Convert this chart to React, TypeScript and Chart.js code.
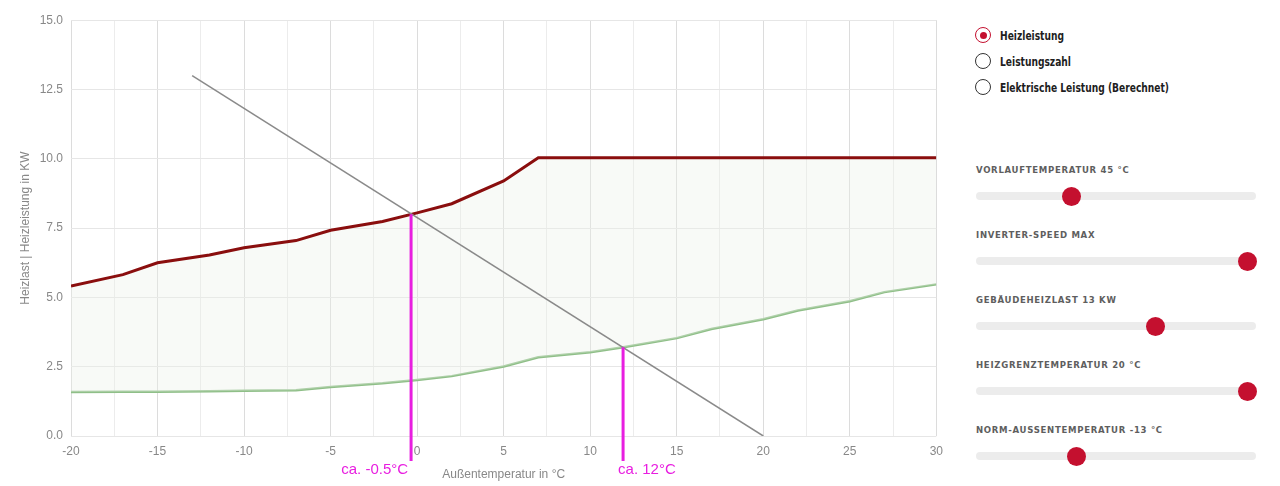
import React, { useEffect, useRef } from "react";
import { Chart, registerables } from "chart.js";

Chart.register(...registerables);

// Heizleistung (red)
const heizTemps = [-20, -17, -15, -12, -10, -7, -5, -2, 0, 2, 5, 7, 10, 12, 15, 17, 20, 22, 25, 27, 30];
const heizValues = [5.41, 5.82, 6.25, 6.53, 6.79, 7.05, 7.42, 7.74, 8.05, 8.38, 9.2, 10.04, 10.04, 10.04, 10.04, 10.04, 10.04, 10.04, 10.04, 10.04, 10.04];

// lower curve (green)
const minTemps = [-20, -17, -15, -12, -10, -7, -5, -2, 0, 2, 5, 7, 10, 12, 15, 17, 20, 22, 25, 27, 30];
const minValues = [1.59, 1.6, 1.6, 1.61, 1.63, 1.65, 1.77, 1.9, 2.02, 2.16, 2.51, 2.84, 3.02, 3.21, 3.53, 3.86, 4.21, 4.53, 4.86, 5.19, 5.47];

// Heizlast (gray)
const lastTemps = [-13, 20];
const lastValues = [13, 0];

// magenta markers
const markerTemps = [-0.35, 11.9];
const markerValues = [8.0, 3.2];
const markerLabels = ["ca. -0.5°C", "ca. 12°C"];

const xTitle = "Außentemperatur in °C";
const yTitle = "Heizlast | Heizleistung in KW";

const radioLabels = ["Heizleistung", "Leistungszahl", "Elektrische Leistung (Berechnet)"];
const radioChecked = [true, false, false];

const sliderLabels = [
  "VORLAUFTEMPERATUR 45 °C",
  "INVERTER-SPEED MAX",
  "GEBÄUDEHEIZLAST 13 KW",
  "HEIZGRENZTEMPERATUR 20 °C",
  "NORM-AUSSENTEMPERATUR -13 °C",
];
const sliderFractions = [0.332, 1.0, 0.649, 1.0, 0.351];

const MAGENTA = "#e81ee0";
const CRIMSON = "#c4102f";

const toPoints = (xs: number[], ys: number[]) => xs.map((x, i) => ({ x, y: ys[i] }));

const markerPlugin = {
  id: "markers",
  afterDatasetsDraw(chart: any) {
    const { ctx, chartArea } = chart;
    const xs = chart.scales.x;
    const ys = chart.scales.y;
    ctx.save();
    markerTemps.forEach((t, i) => {
      const px = xs.getPixelForValue(t);
      const py = ys.getPixelForValue(markerValues[i]);
      ctx.strokeStyle = MAGENTA;
      ctx.lineWidth = 3;
      ctx.beginPath();
      ctx.moveTo(px, py);
      ctx.lineTo(px, chartArea.bottom + 25);
      ctx.stroke();
      ctx.fillStyle = MAGENTA;
      ctx.font = '15px "Liberation Sans", Arial, sans-serif';
      ctx.textBaseline = "middle";
      if (i === 0) {
        ctx.textAlign = "right";
        ctx.fillText(markerLabels[i], px - 3, chartArea.bottom + 34);
      } else {
        ctx.textAlign = "left";
        ctx.fillText(markerLabels[i], px - 5, chartArea.bottom + 34);
      }
    });
    ctx.restore();
  },
};

function ChartView() {
  const ref = useRef<HTMLCanvasElement | null>(null);
  useEffect(() => {
    if (!ref.current) return;
    const chart = new Chart(ref.current, {
      type: "line",
      data: {
        datasets: [
          {
            label: "Heizleistung",
            data: toPoints(heizTemps, heizValues),
            borderColor: "#8a0e0e",
            borderWidth: 3,
            pointRadius: 0,
            fill: "+1",
            backgroundColor: "rgba(236,242,232,0.35)",
            tension: 0,
            order: 2,
          },
          {
            label: "Min",
            data: toPoints(minTemps, minValues),
            borderColor: "#8fbf88",
            borderWidth: 2.5,
            pointRadius: 0,
            fill: false,
            tension: 0,
            order: 3,
          },
          {
            label: "Heizlast",
            data: toPoints(lastTemps, lastValues),
            borderColor: "#8a8a8a",
            borderWidth: 1.5,
            pointRadius: 0,
            fill: false,
            tension: 0,
            order: 1,
          },
        ],
      },
      options: {
        animation: false,
        responsive: false,
        maintainAspectRatio: false,
        layout: { padding: { top: 8, left: 6, right: 12, bottom: 0 } },
        plugins: { legend: { display: false }, tooltip: { enabled: false } },
        scales: {
          x: {
            type: "linear",
            min: -20,
            max: 30,
            border: { display: false },
            grid: {
              drawTicks: false,
              color: (c: any) =>
                c.tick && Math.abs(c.tick.value % 5) < 1e-6 ? "#dcdcdc" : "#ececec",
            },
            ticks: {
              stepSize: 2.5,
              autoSkip: false,
              maxRotation: 0,
              padding: 8,
              color: "#888",
              font: { size: 12, family: 'Arial, "Liberation Sans", sans-serif' },
              callback: (v: any) => (Math.abs(v % 5) < 1e-6 ? String(v) : ""),
            },
            title: {
              display: true,
              text: xTitle,
              color: "#888",
              font: { size: 12, family: 'Arial, "Liberation Sans", sans-serif' },
            },
            afterFit: (s: any) => {
              s.height = 50;
            },
          },
          y: {
            min: 0,
            max: 15,
            border: { display: false },
            grid: { drawTicks: false, color: "#e6e6e6" },
            ticks: {
              stepSize: 2.5,
              padding: 8,
              color: "#888",
              font: { size: 12, family: 'Arial, "Liberation Sans", sans-serif' },
              callback: (v: any) => Number(v).toFixed(1),
            },
            title: {
              display: true,
              text: yTitle,
              color: "#888",
              font: { size: 12, family: 'Arial, "Liberation Sans", sans-serif' },
            },
            afterFit: (s: any) => {
              s.width = 57;
            },
          },
        },
      },
      plugins: [markerPlugin],
    } as any);
    return () => chart.destroy();
  }, []);
  return (
    <canvas
      ref={ref}
      width={943}
      height={481}
      style={{ position: "absolute", left: 0, top: -3, width: 943, height: 481 }}
    />
  );
}

export default function App() {
  const radioFont = '"DejaVu Sans Condensed", "DejaVu Sans", Arial, sans-serif';
  const sliderFont = '"DejaVu Sans Condensed", "DejaVu Sans", sans-serif';
  return (
    <div style={{ position: "relative", width: 1264, height: 478, background: "#fff" }}>
      <ChartView />
      {radioLabels.map((lab, i) => (
        <div key={lab} style={{ position: "absolute", left: 967, top: 19 + i * 26, height: 16, display: "flex", alignItems: "center" }}>
          <div
            style={{
              width: 16,
              height: 16,
              boxSizing: "border-box",
              borderRadius: "50%",
              border: `1.5px solid ${radioChecked[i] ? CRIMSON : "#333"}`,
              display: "flex",
              alignItems: "center",
              justifyContent: "center",
              flexShrink: 0,
            }}
          >
            {radioChecked[i] && <div style={{ width: 7, height: 7, borderRadius: "50%", background: CRIMSON }} />}
          </div>
          <span
            style={{
              marginLeft: 9,
              fontFamily: radioFont,
              fontWeight: 700,
              fontSize: 13,
              color: "#1e1e1e",
              display: "inline-block",
              whiteSpace: "nowrap",
              transform: "scaleX(0.78)",
              transformOrigin: "left center",
            }}
          >
            {lab}
          </span>
        </div>
      ))}
      {sliderLabels.map((lab, i) => {
        const top = 156 + i * 65;
        return (
          <div key={lab} style={{ position: "absolute", left: 968, top, width: 280 }}>
            <div
              style={{
                fontFamily: sliderFont,
                fontWeight: 700,
                fontSize: 9.5,
                letterSpacing: 0.7,
                color: "#5e5e5e",
                lineHeight: "11px",
                whiteSpace: "nowrap",
              }}
            >
              {lab}
            </div>
            <div style={{ position: "absolute", left: 0, top: 28, width: 280, height: 8, borderRadius: 4, background: "#ececec" }} />
            <div
              style={{
                position: "absolute",
                left: 9 + sliderFractions[i] * 262 - 9.5,
                top: 22.5,
                width: 19,
                height: 19,
                borderRadius: "50%",
                background: CRIMSON,
              }}
            />
          </div>
        );
      })}
    </div>
  );
}
